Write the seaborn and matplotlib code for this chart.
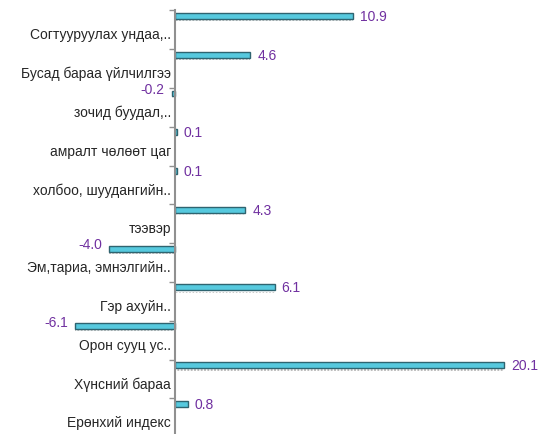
import numpy as np
import seaborn as sns
import matplotlib.pyplot as plt

categories = ["Согтууруулах ундаа,..", "Бусад бараа үйлчилгээ", "зочид буудал,..",
              "амралт чөлөөт цаг", "холбоо, шуудангийн..", "тээвэр",
              "Эм,тариа, эмнэлгийн..", "Гэр ахуйн..", "Орон сууц ус..",
              "Хүнсний бараа", "Ерөнхий индекс"]
values = [10.9, 4.6, -0.2, 0.1, 0.1, 4.3, -4.0, 6.1, -6.1, 20.1, 0.8]

sns.set_style("white")
plt.rcParams['font.family'] = ['Liberation Sans', 'DejaVu Sans']

fig = plt.figure(figsize=(5.44, 4.35), dpi=100)
ax = fig.add_axes([0.126, 0.0, 0.8576, 0.9736])

pos = np.arange(len(categories))
# dotted grey shadow under each bar
ax.barh(pos + 0.1, values, height=0.09, color='none', hatch='.....',
        edgecolor='#b0b0b0', linewidth=0)
sns.barplot(x=values, y=categories, orient='h', width=0.15, color='#56c9de',
            edgecolor='#2e6470', linewidth=1.0, saturation=1, ax=ax)

for i, v in enumerate(values):
    if v >= 0:
        ax.annotate(f"{v:.1f}", (v, i), xytext=(5, 0), textcoords='offset points',
                    ha='left', va='center', color='#7030A0', fontsize=10)
    else:
        ax.annotate(f"{v:.1f}", (v, i), xytext=(-5, 3), textcoords='offset points',
                    ha='right', va='center', color='#7030A0', fontsize=10)

ax.set_xlim(-6.5, 22)
ax.set_ylim(10.78, -0.14)

bounds = pos - 0.14
ax.set_yticks(bounds)
ax.set_yticklabels([])
ax.set_yticks(pos + 0.44, minor=True)
ax.set_yticklabels(categories, minor=True, fontsize=9.5)
ax.tick_params(axis='y', which='major', length=4, width=1, color='#909090', direction='out', left=True)
ax.tick_params(axis='y', which='minor', length=0, pad=3)
ax.set_xticks([])
ax.set_ylabel("")
ax.set_xlabel("")

for s in ['top', 'right', 'bottom']:
    ax.spines[s].set_visible(False)
ax.spines['left'].set_position(('data', 0))
ax.spines['left'].set_color('#909090')
ax.spines['left'].set_linewidth(1.5)

fig.savefig("out.png", dpi=100)
